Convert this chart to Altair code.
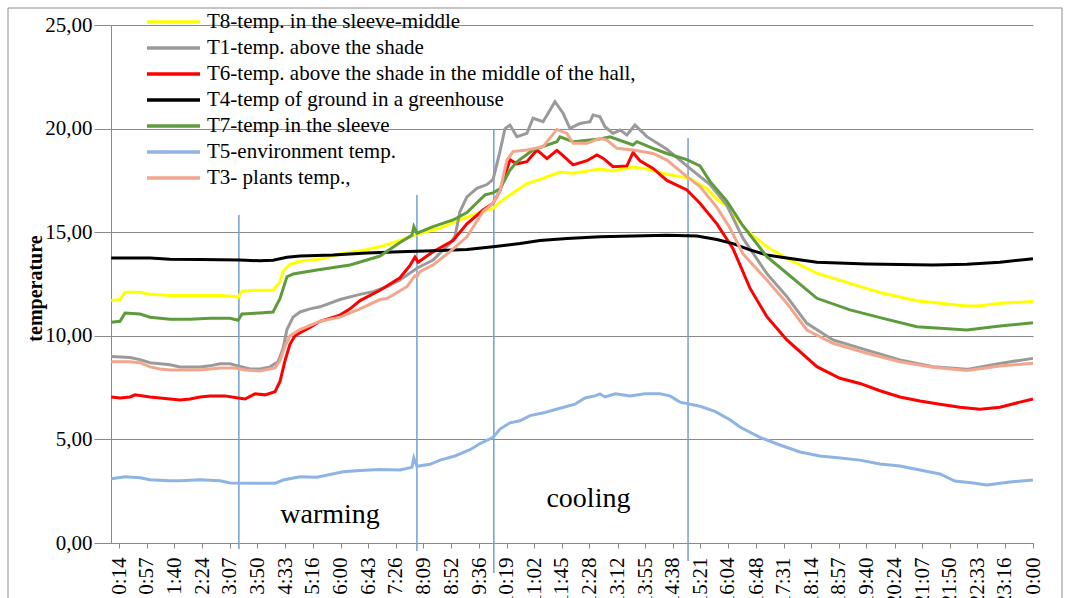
import altair as alt
import pandas as pd

# ---------------- data ----------------
TICK_LABELS = ["0:14", "0:57", "1:40", "2:24", "3:07", "3:50", "4:33", "5:16", "6:00",
               "6:43", "7:26", "8:09", "8:52", "9:36", "10:19", "11:02", "11:45", "12:28",
               "13:12", "13:55", "14:38", "15:21", "16:04", "16:48", "17:31", "18:14",
               "18:57", "19:40", "20:24", "21:07", "21:50", "22:33", "23:16", "0:00"]

SERIES = ["\u00a0T8-temp. in the sleeve-middle",
          "T1-temp. above the shade",
          "\u00a0T6-temp. above the shade in the middle of the hall,",
          "T4-temp of ground in a greenhouse",
          "T7-temp in the sleeve",
          "\u00a0T5-environment temp.",
          "T3- plants temp.,"]
COLORS = ["#FFFF00", "#9A9A9A", "#FF0000", "#000000", "#5E9B3C", "#8EB4E3", "#F2A68C"]

# (time in hours, temperature)
T8 = [(0.03, 11.7), (0.26, 11.75), (0.39, 12.1), (0.78, 12.1), (1.04, 12.0), (1.56, 11.95),
      (2.34, 11.95), (2.86, 11.95), (3.25, 11.9), (3.33, 11.85), (3.43, 12.15), (3.77, 12.2),
      (4.24, 12.2), (4.42, 12.6), (4.5, 13.1), (4.68, 13.45), (4.94, 13.6), (5.46, 13.7),
      (5.98, 13.95), (6.5, 14.1), (7.02, 14.3), (7.54, 14.6), (7.98, 14.9), (8.58, 15.2),
      (9.1, 15.6), (9.62, 15.95), (9.96, 16.15), (10.14, 16.45), (10.4, 16.8), (10.84, 17.35),
      (11.18, 17.55), (11.7, 17.9), (12.04, 17.85), (12.74, 18.05), (13.08, 17.95), (13.6, 18.15),
      (13.96, 18.05), (14.48, 17.8), (15.08, 17.6), (15.52, 17.1), (15.78, 16.6), (16.04, 16.25),
      (16.46, 15.3), (16.64, 14.95), (17.08, 14.3), (17.6, 13.74), (18.38, 13.02), (19.24, 12.53),
      (20.1, 12.05), (20.98, 11.69), (22.28, 11.44), (22.62, 11.45), (23.14, 11.57), (24.0, 11.65)]

T1 = [(0.03, 9.0), (0.52, 8.95), (0.78, 8.85), (1.04, 8.7), (1.56, 8.6), (1.82, 8.5), (2.34, 8.5),
      (2.6, 8.55), (2.86, 8.65), (3.12, 8.65), (3.33, 8.55), (3.64, 8.4), (3.9, 8.4), (4.16, 8.5),
      (4.37, 8.75), (4.5, 9.4), (4.6, 10.3), (4.76, 10.9), (4.94, 11.15), (5.2, 11.3), (5.46, 11.4),
      (5.98, 11.75), (6.5, 12.0), (6.84, 12.13), (7.2, 12.37), (7.54, 12.69), (7.98, 13.26),
      (8.4, 13.66), (8.84, 14.46), (8.97, 14.8), (9.1, 16.0), (9.28, 16.7), (9.54, 17.12),
      (9.8, 17.3), (9.96, 17.55), (10.14, 18.9), (10.27, 20.0), (10.4, 20.17), (10.58, 19.61),
      (10.84, 19.77), (11.0, 20.5), (11.26, 20.33), (11.57, 21.3), (11.78, 20.74), (11.96, 20.01),
      (12.22, 20.25), (12.48, 20.33), (12.56, 20.66), (12.74, 20.57), (12.87, 20.09), (13.08, 19.77),
      (13.26, 19.93), (13.44, 19.69), (13.65, 20.17), (13.96, 19.61), (14.48, 19.0), (15.0, 18.2),
      (15.6, 17.3), (16.04, 16.3), (16.46, 14.7), (17.08, 13.0), (17.6, 11.89), (18.12, 10.6),
      (18.8, 9.8), (19.68, 9.31), (20.54, 8.83), (21.4, 8.51), (22.28, 8.38), (23.14, 8.67),
      (24.0, 8.91)]

T6 = [(0.03, 7.05), (0.26, 7.0), (0.52, 7.05), (0.65, 7.15), (1.04, 7.05), (1.3, 7.0), (1.56, 6.95),
      (1.82, 6.9), (2.08, 6.95), (2.34, 7.05), (2.6, 7.1), (2.99, 7.1), (3.33, 7.0), (3.51, 6.95),
      (3.77, 7.2), (4.03, 7.15), (4.29, 7.3), (4.42, 7.8), (4.55, 8.8), (4.68, 9.6), (4.81, 10.0),
      (4.94, 10.15), (5.2, 10.4), (5.46, 10.7), (5.98, 11.0), (6.24, 11.3), (6.5, 11.7), (7.02, 12.2),
      (7.54, 12.8), (7.8, 13.4), (7.93, 13.8), (8.01, 13.55), (8.4, 14.06), (8.92, 14.6), (9.28, 15.4),
      (9.7, 16.07), (9.96, 16.4), (10.14, 17.0), (10.4, 18.5), (10.58, 18.3), (10.84, 18.4),
      (11.1, 18.97), (11.36, 18.55), (11.62, 18.95), (11.78, 18.7), (12.04, 18.25), (12.4, 18.45),
      (12.66, 18.73), (12.82, 18.57), (13.08, 18.16), (13.44, 18.2), (13.6, 18.85), (13.78, 18.45),
      (14.12, 18.08), (14.48, 17.5), (15.0, 17.04), (15.34, 16.4), (15.78, 15.4), (16.2, 14.2),
      (16.64, 12.3), (17.08, 10.92), (17.6, 9.8), (18.38, 8.51), (18.98, 7.95), (19.5, 7.7),
      (20.02, 7.35), (20.54, 7.05), (21.06, 6.85), (21.58, 6.7), (22.1, 6.55), (22.62, 6.45),
      (23.14, 6.55), (23.66, 6.8), (24.0, 6.95)]

T4 = [(0.03, 13.75), (1.04, 13.75), (1.56, 13.7), (2.34, 13.68), (3.38, 13.66), (3.9, 13.62),
      (4.24, 13.65), (4.6, 13.79), (4.94, 13.85), (5.8, 13.9), (6.68, 14.0), (7.54, 14.06),
      (8.4, 14.1), (9.28, 14.17), (9.96, 14.3), (10.66, 14.45), (11.18, 14.6), (11.88, 14.7),
      (12.74, 14.78), (13.6, 14.82), (14.48, 14.85), (15.26, 14.82), (15.78, 14.65), (16.2, 14.45),
      (16.64, 14.15), (17.08, 13.9), (17.6, 13.75), (18.38, 13.55), (19.68, 13.47), (21.4, 13.42),
      (22.28, 13.45), (23.14, 13.55), (24.0, 13.72)]

T7 = [(0.03, 10.65), (0.26, 10.7), (0.39, 11.1), (0.78, 11.05), (1.04, 10.9), (1.56, 10.8),
      (2.08, 10.8), (2.6, 10.85), (3.12, 10.85), (3.33, 10.75), (3.43, 11.05), (3.9, 11.1),
      (4.24, 11.15), (4.42, 11.8), (4.6, 12.85), (4.76, 12.98), (5.38, 13.18), (6.24, 13.42),
      (6.68, 13.66), (7.02, 13.85), (7.54, 14.5), (7.85, 14.85), (7.9, 15.27), (7.98, 14.95),
      (8.4, 15.27), (8.92, 15.59), (9.28, 15.95), (9.75, 16.8), (9.96, 16.9), (10.14, 17.1),
      (10.4, 18.0), (10.58, 18.4), (11.0, 18.97), (11.62, 19.37), (11.7, 19.6), (12.04, 19.37),
      (12.74, 19.5), (13.0, 19.6), (13.6, 19.21), (13.7, 19.37), (14.12, 19.05), (14.48, 18.8),
      (15.0, 18.5), (15.34, 18.2), (15.6, 17.45), (16.04, 16.5), (16.46, 15.3), (17.08, 13.82),
      (17.6, 13.02), (18.38, 11.81), (19.24, 11.25), (20.1, 10.84), (20.98, 10.44), (22.28, 10.28),
      (23.14, 10.47), (24.0, 10.63)]

T5 = [(0.03, 3.1), (0.39, 3.2), (0.78, 3.15), (1.04, 3.05), (1.56, 3.0), (1.82, 3.0), (2.34, 3.05),
      (2.86, 3.0), (3.12, 2.9), (3.9, 2.88), (4.29, 2.88), (4.5, 3.04), (4.94, 3.2), (5.38, 3.17),
      (6.06, 3.44), (6.5, 3.5), (7.02, 3.55), (7.54, 3.52), (7.85, 3.65), (7.9, 4.1), (7.98, 3.7),
      (8.32, 3.8), (8.58, 4.0), (8.97, 4.2), (9.36, 4.5), (9.62, 4.8), (9.96, 5.1), (10.14, 5.5),
      (10.4, 5.8), (10.66, 5.9), (10.92, 6.15), (11.31, 6.3), (11.7, 6.5), (12.09, 6.7), (12.35, 7.0),
      (12.61, 7.1), (12.74, 7.2), (12.87, 7.05), (13.14, 7.2), (13.52, 7.1), (13.91, 7.2), (14.3, 7.2),
      (14.56, 7.1), (14.82, 6.8), (15.34, 6.6), (15.73, 6.35), (16.12, 5.95), (16.38, 5.6),
      (16.9, 5.1), (17.42, 4.73), (17.94, 4.39), (18.46, 4.2), (18.98, 4.1), (19.5, 4.0),
      (20.02, 3.81), (20.54, 3.72), (21.06, 3.52), (21.58, 3.33), (21.97, 2.99), (22.44, 2.9),
      (22.8, 2.8), (23.4, 2.94), (24.0, 3.04)]

T3 = [(0.03, 8.75), (0.52, 8.75), (0.78, 8.7), (1.04, 8.5), (1.3, 8.4), (1.56, 8.35), (2.34, 8.35),
      (2.6, 8.4), (2.86, 8.45), (3.25, 8.45), (3.51, 8.35), (3.9, 8.3), (4.29, 8.45), (4.42, 8.8),
      (4.55, 9.5), (4.68, 10.0), (4.94, 10.3), (5.46, 10.7), (5.98, 10.9), (6.5, 11.3), (7.02, 11.75),
      (7.2, 11.8), (7.72, 12.37), (7.93, 12.9), (7.98, 12.85), (8.06, 13.1), (8.4, 13.42),
      (8.84, 14.06), (9.28, 14.78), (9.7, 16.0), (9.96, 16.4), (10.14, 17.0), (10.32, 18.48),
      (10.48, 18.89), (10.84, 18.97), (11.26, 19.13), (11.62, 19.96), (11.88, 19.77), (12.04, 19.29),
      (12.4, 19.29), (12.74, 19.53), (12.92, 19.45), (13.18, 19.05), (13.6, 18.97), (14.12, 18.8),
      (14.48, 18.48), (15.0, 17.68), (15.34, 17.2), (15.78, 16.2), (16.12, 15.2), (16.46, 13.95),
      (17.08, 12.69), (17.6, 11.57), (18.12, 10.28), (18.8, 9.64), (19.68, 9.16), (20.54, 8.75),
      (21.4, 8.48), (22.28, 8.32), (23.14, 8.54), (24.0, 8.67)]

SERIES_DATA = [T8, T1, T6, T4, T7, T5, T3]

# phase marker lines: time, top, bottom
MARK_T = [3.35, 7.98, 9.98, 15.03]
MARK_TOP = [15.83, 16.8, 19.98, 19.55]
MARK_BOTTOM = [-0.29, -0.39, -1.45, -0.87]

NOTE_TEXT = ["warming", "cooling"]
NOTE_T = [5.72, 12.44]
NOTE_V = [0.97, 1.74]

# ---------------- build tables ----------------
rows = []
for name, pts in zip(SERIES, SERIES_DATA):
    for h, v in pts:
        rows.append({"series": name, "h": h, "v": v})
lines_df = pd.DataFrame(rows)

marks_df = pd.DataFrame({"h": MARK_T, "v": MARK_TOP, "v2": MARK_BOTTOM})
notes_df = pd.DataFrame({"h": NOTE_T, "v": NOTE_V, "label": NOTE_TEXT})


def to_hours(s):
    a, b = s.split(":")
    return int(a) + int(b) / 60.0


tick_vals = [to_hours(s) for s in TICK_LABELS]
tick_vals[-1] = 24.0

FONT = "Liberation Serif"
GRID = "#898989"

x_enc = alt.X(
    "h:Q",
    scale=alt.Scale(domain=[0.025, 24.0], nice=False, zero=False),
    axis=alt.Axis(
        values=tick_vals,
        labelExpr="(floor(round(datum.value*60)/60) % 24) + ':' + "
                  "(round(datum.value*60) % 60 < 10 ? '0' : '') + (round(datum.value*60) % 60)",
        labelAngle=270, labelAlign="right", labelBaseline="middle",
        labelFont=FONT, labelFontSize=21, labelColor="#000000",
        labelPadding=9, labelFlush=False, labelOverlap=False, labelBound=False,
        tickSize=5, tickColor=GRID, domainColor=GRID, grid=False, title=None,
    ),
)
y_enc = alt.Y(
    "v:Q",
    scale=alt.Scale(domain=[0, 25], nice=False, zero=False),
    axis=alt.Axis(
        values=[0, 5, 10, 15, 20, 25],
        labelExpr="replace(format(datum.value, '.2f'), '.', ',')",
        labelFont=FONT, labelFontSize=21, labelColor="#000000",
        labelPadding=2, tickSize=17, tickColor=GRID, domainColor=GRID,
        grid=True, gridColor=GRID, gridWidth=1.2,
        title="temperature", titleFont=FONT, titleFontSize=20, titleFontWeight="bold",
        titleColor="#000000", titleAngle=270, titleX=-76, titleY=263,
        titleAlign="center", titleBaseline="middle",
    ),
)

border = alt.Chart(pd.DataFrame({"k": [0]})).mark_rect(
    fillOpacity=0, stroke="#8C8C8C", strokeWidth=1
).encode(
    x=alt.value(-103), x2=alt.value(951), y=alt.value(-17), y2=alt.value(640)
)

lines = alt.Chart(lines_df).mark_line(strokeWidth=3).encode(
    x=x_enc,
    y=y_enc,
    color=alt.Color(
        "series:N",
        scale=alt.Scale(domain=SERIES, range=COLORS),
        legend=alt.Legend(
            title=None, orient="none", legendX=34, legendY=-16, direction="vertical",
            symbolType="stroke", symbolSize=2809, symbolStrokeWidth=3.5,
            labelFont=FONT, labelFontSize=21, labelColor="#000000", labelOffset=5,
            labelLimit=800, clipHeight=26, rowPadding=0, padding=0,
        ),
    ),
)

rules = alt.Chart(marks_df).mark_rule(color="#6FA0D6", strokeWidth=1.5).encode(
    x=x_enc, y=y_enc, y2="v2:Q"
)

notes = alt.Chart(notes_df).mark_text(
    font=FONT, fontSize=28, align="center", baseline="alphabetic", color="#000000"
).encode(x=x_enc, y=y_enc, text="label:N")

chart = alt.layer(border, rules, lines, notes).properties(
    width=922, height=518,
    autosize=alt.AutoSizeParams(type="none"),
    padding={"left": 111, "top": 25, "right": 33, "bottom": 55},
    background="#FFFFFF",
).configure_view(stroke=None)

chart.save("out.html", embed_options={"renderer": "svg", "actions": False})
